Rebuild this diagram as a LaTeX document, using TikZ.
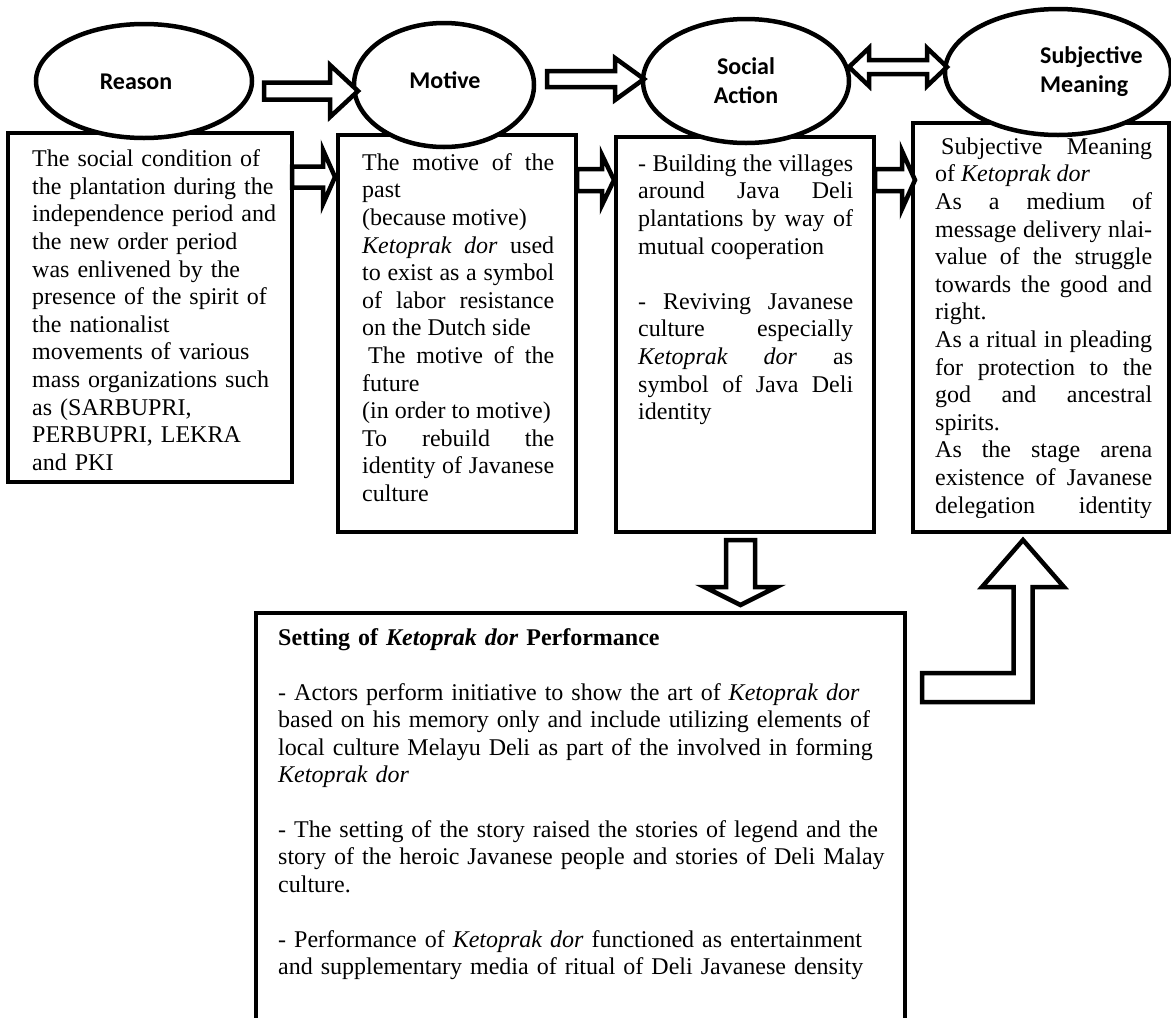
\documentclass[tikz,border=0pt]{standalone}
\usepackage{fontspec}
\setmainfont{Liberation Serif}
\newfontfamily\labelfont{Carlito}
\usetikzlibrary{calc,shapes.geometric}
\tolerance=10000
\hbadness=10000
\hyphenpenalty=10000
\parindent=0pt

\tikzset{
  frame/.style={draw, line width=4.5pt, fill=white, rectangle, inner sep=0pt, outer sep=0pt},
  bubble/.style={draw, line width=4.5pt, fill=white, ellipse, inner sep=0pt, outer sep=0pt},
  bubbletext/.style={font=\labelfont\bfseries\fontsize{24}{29}\selectfont, align=center, inner sep=0pt},
  bodytext/.style={font=\fontsize{24}{27.6}\selectfont, inner sep=0pt, anchor=north west},
  blockarrow/.style={draw, line width=4.5pt, fill=white, line join=miter},
}

% horizontal block arrow: start point, tip point, shaft half, head half, head length
\newcommand\rightblock[5]{%
  \draw[blockarrow] let \p1=#1, \p2=#2 in
    (\x1,\y1+#3) -- (\x2-#5,\y1+#3) -- (\x2-#5,\y1+#4) -- (\x2,\y1)
    -- (\x2-#5,\y1-#4) -- (\x2-#5,\y1-#3) -- (\x1,\y1-#3) -- cycle;}
% two-headed block arrow: left tip, right tip, shaft half, head half, head length
\newcommand\doubleblock[5]{%
  \draw[blockarrow] let \p1=#1, \p2=#2 in
    (\x1,\y1) -- (\x1+#5,\y1+#4) -- (\x1+#5,\y1+#3) -- (\x2-#5,\y1+#3)
    -- (\x2-#5,\y1+#4) -- (\x2,\y1) -- (\x2-#5,\y1-#4) -- (\x2-#5,\y1-#3)
    -- (\x1+#5,\y1-#3) -- (\x1+#5,\y1-#4) -- cycle;}
% downward block arrow: top centre, tip, shaft half, head half, head length
\newcommand\downblock[5]{%
  \draw[blockarrow] let \p1=#1, \p2=#2 in
    (\x1-#3,\y1) -- (\x1-#3,\y2+#5) -- (\x1-#4,\y2+#5) -- (\x1,\y2)
    -- (\x1+#4,\y2+#5) -- (\x1+#3,\y2+#5) -- (\x1+#3,\y1) -- cycle;}

\begin{document}
\begin{tikzpicture}[x=1pt,y=-1pt]
\useasboundingbox (0,0) rectangle (1171,1018);

% ---- boxes ----
\node[frame, minimum width=284, minimum height=349] (reasonB) at (150,307.5) {};
\node[frame, minimum width=238, minimum height=397] (motiveB) at (457,333.5) {};
\node[frame, minimum width=258, minimum height=395] (socialB) at (745,334.5) {};
\node[frame, minimum width=256, minimum height=409] (subjB) at (1041,327.5) {};
\node[inner sep=0pt, outer sep=0pt, minimum width=649, minimum height=405, anchor=north west] (setB) at (256,613) {};
\draw[line width=4.5pt] (setB.south west) |- (setB.north east) -- (setB.south east);

% ---- box texts ----
\begin{scope}
\clip (10,135) rectangle (290,471);
\node[bodytext, text width=250, align=left] (reasonTxt) at (32,147.2) {\strut The social condition of\\
the plantation during the\\
independence period and\\
the new order period\\
was enlivened by the\\
presence of the spirit of\\
the nationalist\\
movements of various\\
mass organizations such\\
as (SARBUPRI,\\
PERBUPRI, LEKRA\\
and PKI};
\end{scope}

\node[bodytext, text width=192, align=justify] (motiveTxt) at (362,150.7) {\strut The motive of the \linebreak
past\\
(because motive)\\
\textit{Ketoprak dor} used \linebreak
to exist as a symbol \linebreak
of labor resistance \linebreak
on the Dutch side\\
\hspace*{6pt}The motive of the \linebreak
future\\
(in order to motive)\\
To rebuild the \linebreak
identity of Javanese \linebreak
culture};

\node[bodytext, text width=215, align=justify] (socialTxt) at (638,151.7) {\strut - Building the villages \linebreak
around Java Deli \linebreak
plantations by way of \linebreak
mutual cooperation\\
\mbox{}\\
- Reviving Javanese \linebreak
culture especially \linebreak
\textit{Ketoprak dor} as \linebreak
symbol of Java Deli \linebreak
identity};

\begin{scope}
\clip (915,125) rectangle (1167,517);
\node[bodytext, text width=217, align=justify] (subjTxt) at (935,134.7) {\strut\hspace*{6pt}Subjective Meaning \linebreak
of \textit{Ketoprak dor}\\
As a medium of \linebreak
message delivery nlai- \linebreak
value of the struggle \linebreak
towards the good and \linebreak
right.\\
As a ritual in pleading \linebreak
for protection to the \linebreak
god and ancestral \linebreak
spirits.\\
As the stage arena \linebreak
existence of Javanese \linebreak
delegation identity \linebreak
\mbox{}};
\end{scope}

\node[bodytext, font=\fontsize{24}{27.4}\selectfont, text width=620, align=left] (setTxt) at (278,626.3) {\strut\textbf{Setting of \textit{Ketoprak dor} Performance}\\
\mbox{}\\
- Actors perform initiative to show the art of \textit{Ketoprak dor}\\
based on his memory only and include utilizing elements of\\
local culture Melayu Deli as part of the involved in forming\\
\textit{Ketoprak dor}\\
\mbox{}\\
- The setting of the story raised the stories of legend and the\\
story of the heroic Javanese people and stories of Deli Malay\\
culture.\\
\mbox{}\\
- Performance of \textit{Ketoprak dor} functioned as entertainment\\
and supplementary media of ritual of Deli Javanese density};

% ---- ellipses ----
\node[bubble, minimum width=216, minimum height=114] (reasonE) at (144,81) {};
\node[bubble, minimum width=180, minimum height=124] (motiveE) at (444,85) {};
\node[bubble, minimum width=206, minimum height=124] (socialE) at (746,81) {};
\node[bubble, minimum width=226, minimum height=126] (subjE) at (1058,72) {};

\node[bubbletext] (reasonT) at (136,82) {Reason};
\node[bubbletext] (motiveT) at (445,80) {Motive};
\node[bubbletext] (socialT) at (746,81) {Social\\Action};
\node[bubbletext, align=left, anchor=west] (subjT) at (1040,72) {Subjective\\Meaning};

% ---- arrows between ellipses ----
\rightblock{($(reasonE.east)+(12,10)$)}{($(motiveE.west)+(4,0)$)}{8.5pt}{26pt}{28pt}
\rightblock{($(motiveE.east)+(13,-6)$)}{($(socialE.west)+(1,0)$)}{8pt}{21pt}{29pt}
\doubleblock{($(socialE.east)+(0,-14)$)}{($(subjE.west)+(2,0)$)}{7pt}{19pt}{20pt}

% ---- arrows between boxes ----
\rightblock{($(reasonB.north east)+(0,44)$)}{($(motiveB.west)+(-3,0)$)}{10.5pt}{27pt}{12pt}
\rightblock{($(motiveB.north east)+(1,45)$)}{($(socialB.west)+(-2,0)$)}{11pt}{25pt}{12pt}
\rightblock{($(socialB.north east)+(1,43)$)}{($(subjB.west)+(2,0)$)}{11pt}{29pt}{13pt}

% ---- down arrow to setting box ----
\downblock{($(socialB.south)+(-4.5,8)$)}{($(setB.north)+(0,-8)$)}{14.5pt}{36pt}{18pt}

% ---- elbow arrow up to subjective meaning box ----
\coordinate (lTail) at (922,687.5);
\draw[blockarrow] let \p1=($(subjB.south)+(-18,8)$), \p2=(lTail) in
  (\x1,\y1) -- (\x1+41pt,\y1-47pt) -- (\x1+9.5pt,\y1-47pt) -- (\x1+9.5pt,\y2-14.5pt)
  -- (\x2,\y2-14.5pt) -- (\x2,\y2+14.5pt) -- (\x1-9.5pt,\y2+14.5pt)
  -- (\x1-9.5pt,\y1-47pt) -- (\x1-41pt,\y1-47pt) -- cycle;
\end{tikzpicture}
\end{document}
